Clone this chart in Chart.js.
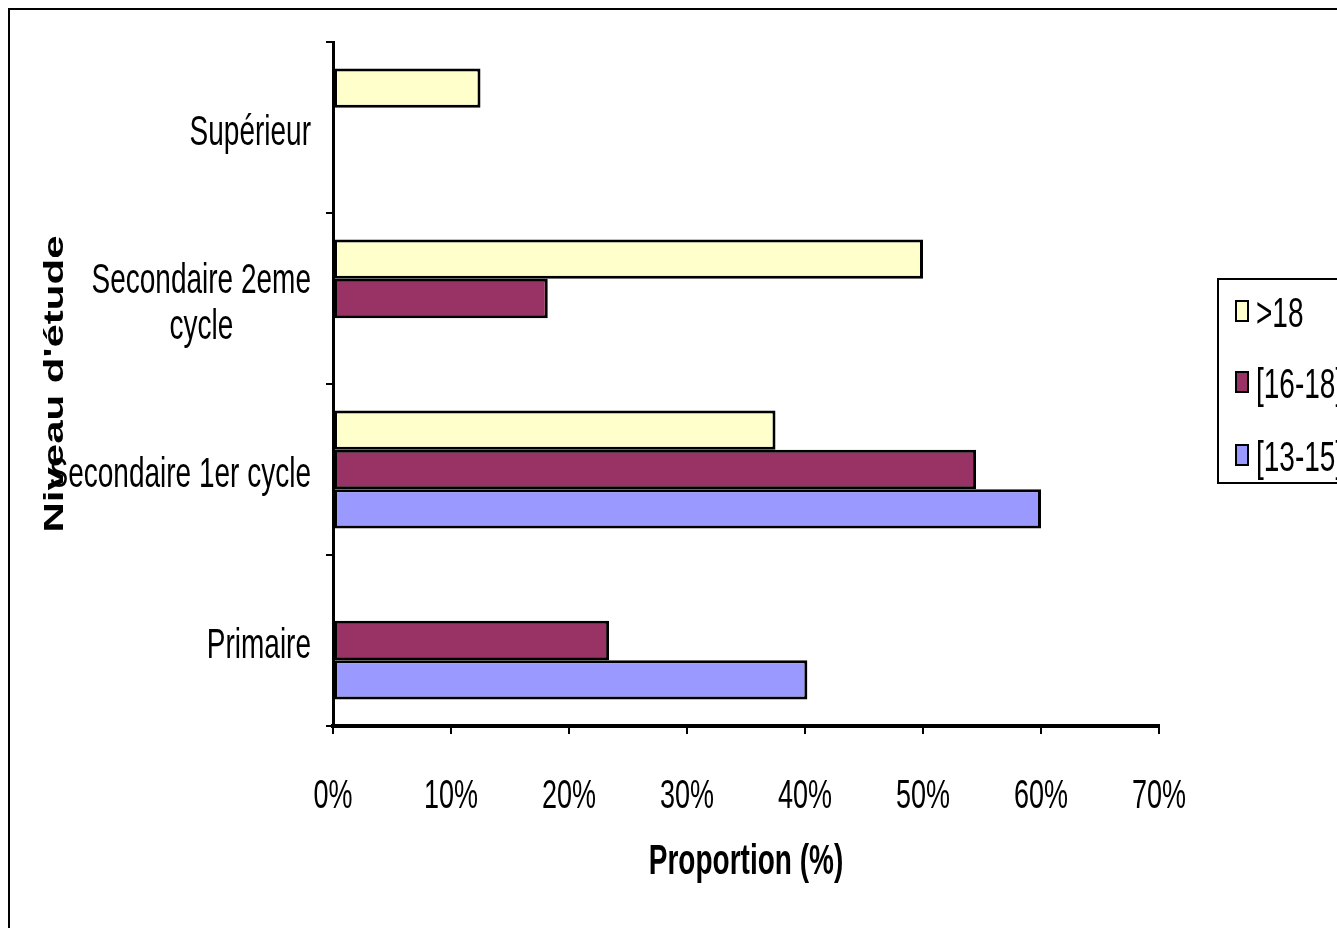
<!DOCTYPE html>
<html><head><meta charset="utf-8">
<script src="https://cdn.jsdelivr.net/npm/chart.js@4"></script>
<style>html,body{margin:0;padding:0;background:#fff;overflow:hidden}</style>
</head><body>
<canvas id="c" width="1337" height="928"></canvas>
<script>
const categories = ['Supérieur', 'Secondaire 2eme cycle', 'Secondaire 1er cycle', 'Primaire'];
const seriesLabels = ['>18', '[16-18]', '[13-15]'];
const over18 = [12.5, 50, 37.5, null];
const age16to18 = [null, 18.2, 54.5, 23.4];
const age13to15 = [null, null, 60, 40.2];
const xTicks = [0, 10, 20, 30, 40, 50, 60, 70];
const colors = ['#FFFFCC', '#993366', '#9999FF'];

const FONT = "'Liberation Sans', Arial, sans-serif";
const TEXT_STRETCH_Y = 1.5; // the reference picture is stretched vertically

const canvas = document.getElementById('c');
const ctx0 = canvas.getContext('2d');
// draw every text stretched vertically around its anchor, like the reference
const origFillText = ctx0.fillText;
ctx0.fillText = function (text, x, y, maxWidth) {
  const m = this.getTransform();
  const p = m.transformPoint(new DOMPoint(x, y));
  const n = new DOMMatrix().translate(p.x, p.y).scale(1, TEXT_STRETCH_Y).translate(-p.x, -p.y).multiply(m);
  this.setTransform(n);
  if (maxWidth === undefined) origFillText.call(this, text, x, y);
  else origFillText.call(this, text, x, y, maxWidth);
  this.setTransform(m);
};

const framePlugin = {
  id: 'frame',
  beforeDraw(chart) {
    const ctx = chart.ctx;
    ctx.save();
    ctx.fillStyle = '#fff';
    ctx.fillRect(0, 0, chart.width, chart.height);
    ctx.restore();
  },
  afterDraw(chart) {
    const ctx = chart.ctx;
    ctx.save();
    ctx.strokeStyle = '#000';
    ctx.lineWidth = 2;
    ctx.strokeRect(9, 9, 1500, 1100);
    // legend box
    ctx.fillStyle = '#fff';
    ctx.fillRect(1218, 279, 140, 204);
    ctx.strokeRect(1218, 279, 140, 204);
    const ys = [311, 382, 455];
    chart.data.datasets.forEach((ds, i) => {
      ctx.fillStyle = ds.backgroundColor;
      ctx.fillRect(1236, ys[i] - 10, 12, 20);
      ctx.lineWidth = 2;
      ctx.strokeStyle = '#000';
      ctx.strokeRect(1236, ys[i] - 10, 12, 20);
      ctx.fillStyle = '#000';
      ctx.font = '28px ' + FONT;
      ctx.textBaseline = 'middle';
      ctx.textAlign = 'left';
      ctx.fillText(ds.label, 1256, ys[i] + 4);
    });
    ctx.restore();
  }
};

const values = [over18, age16to18, age13to15];
new Chart(canvas, {
  type: 'bar',
  data: {
    labels: categories,
    datasets: seriesLabels.map((l, i) => ({
      label: l,
      data: values[i],
      backgroundColor: colors[i],
      borderColor: '#000',
      borderWidth: 3,
      borderSkipped: false,
      categoryPercentage: 0.69,
      barPercentage: 1.0
    }))
  },
  options: {
    indexAxis: 'y',
    responsive: false,
    animation: false,
    devicePixelRatio: 1,
    layout: { padding: { left: 8, top: 42, right: 178, bottom: 0 } },
    plugins: { legend: { display: false }, tooltip: { enabled: false } },
    scales: {
      x: {
        min: 0, max: 70,
        afterBuildTicks: s => { s.ticks = xTicks.map(v => ({ value: v })); },
        afterFit: s => { s.height = 202; },
        ticks: {
          color: '#000',
          font: { size: 27, family: FONT, lineHeight: 1.2 },
          padding: 47,
          callback: v => v + '%'
        },
        grid: { drawOnChartArea: false, drawTicks: true, tickLength: 8, color: '#000', lineWidth: 2 },
        border: { display: true, color: '#000', width: 4 },
        title: {
          display: true,
          text: 'Proportion (%)',
          color: '#000',
          font: { size: 28, weight: 'bold', family: FONT, lineHeight: 1 },
          padding: { top: 0, bottom: 52 }
        }
      },
      y: {
        afterFit: s => { s.width = 325; },
        ticks: {
          color: '#000',
          font: { size: 28, family: FONT, lineHeight: 1.64 },
          padding: 15,
          labelOffset: 6,
          callback: function (v, i) {
            const t = categories[i];
            if (t === 'Secondaire 2eme cycle') return ['Secondaire 2eme', 'cycle          '];
            return t;
          }
        },
        grid: { drawOnChartArea: false, drawTicks: true, tickLength: 7, color: '#000', lineWidth: 2, offset: true },
        border: { display: true, color: '#000', width: 3 },
        title: {
          display: true,
          text: "Niveau d'étude",
          color: '#000',
          font: { size: 28, weight: 'bold', family: FONT, lineHeight: 1 },
          padding: { top: 33, bottom: 0 }
        }
      }
    }
  },
  plugins: [framePlugin]
});
</script>
</body></html>
